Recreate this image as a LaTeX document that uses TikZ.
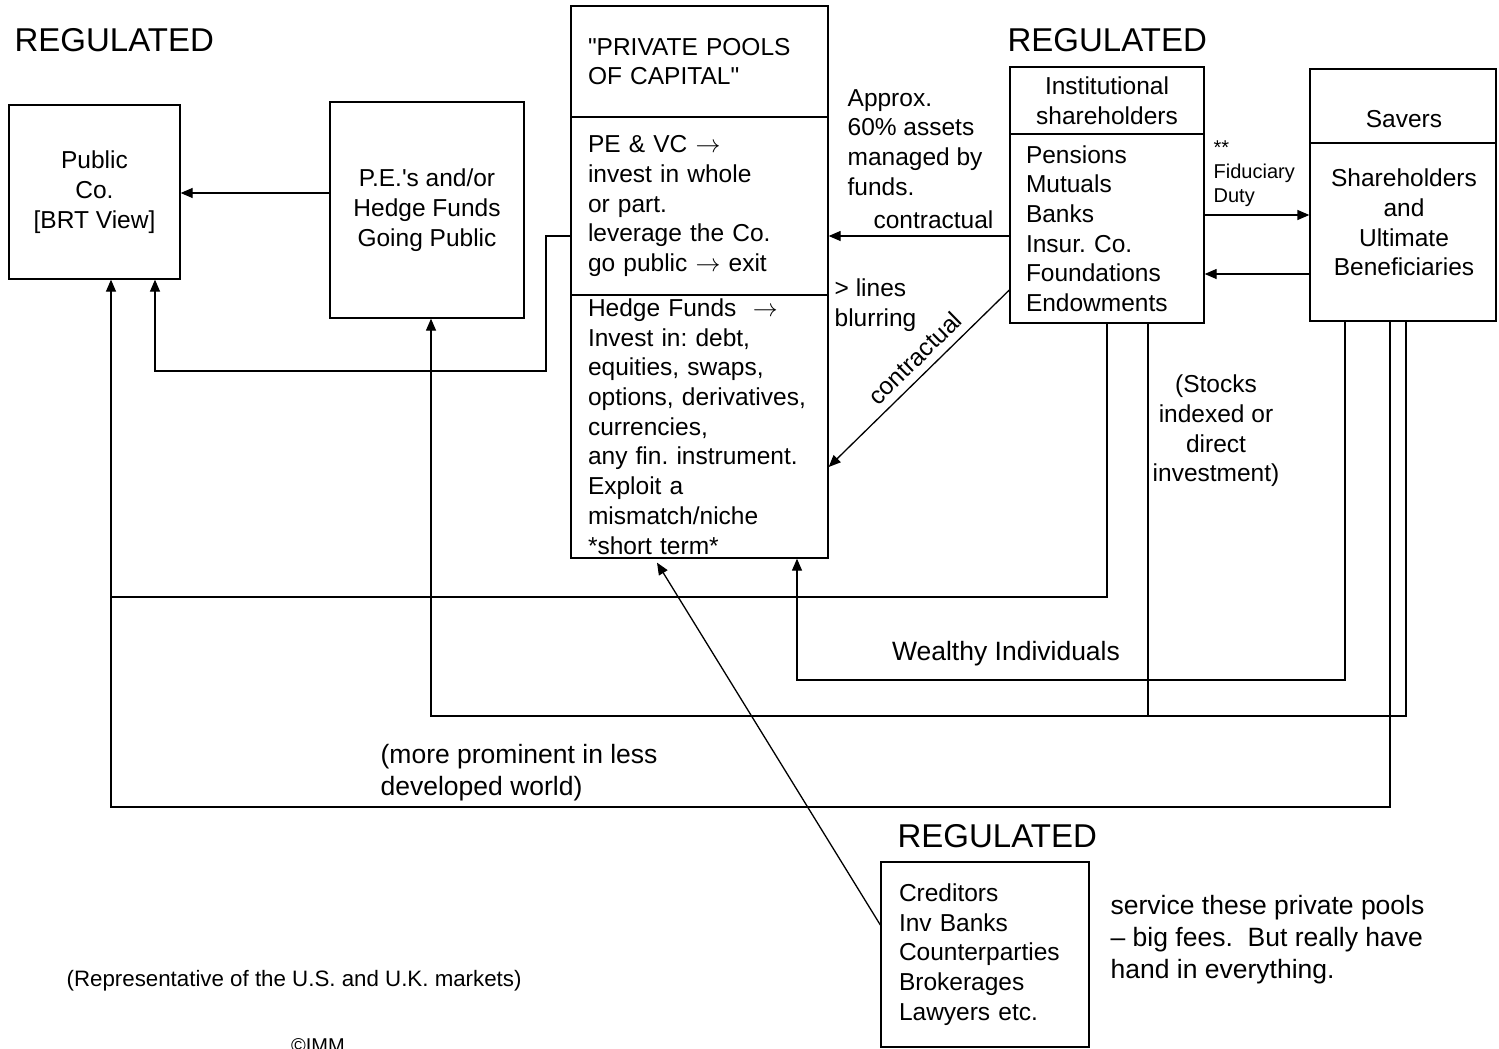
\documentclass[tikz,border=0pt]{standalone}
\usepackage{fontspec}
\setmainfont{Liberation Sans}[Ligatures=TeXOff]
\usepackage{tikz}
\frenchspacing
\newcommand*\bodyfont{\fontsize{24.5}{29.7}\selectfont}
\newcommand*\bigfont{\fontsize{26.5}{31.8}\selectfont}
\newcommand*\smallfont{\fontsize{20}{24}\selectfont}
\newcommand*\headfont{\fontsize{33}{40}\selectfont}
\newcommand*\toarrow{$\rightarrow$}
\usetikzlibrary{arrows.meta}

\begin{document}
\begin{tikzpicture}[
      x=1pt, y=-1pt,
      >={Triangle[length=12pt,width=10pt]},
      line width=1.3pt,
      box/.style={draw, inner sep=0pt, font=\bodyfont},
      listbox/.style={box, align=left},
      heading/.style={font=\headfont, inner sep=0pt},
      note/.style={font=\bodyfont, inner sep=0pt},
    ]
      \path[use as bounding box, fill=white] (0,0) rectangle (1499,1049);

      \node[box, align=center, minimum width=171pt, minimum height=174pt] (pubco) at (94.5,192) {Public\\Co.\\{}[BRT View]};
      \node[box, align=center, minimum width=194pt, minimum height=216pt] (pefunds) at (427,210) {P.E.'s and/or\\Hedge Funds\\Going Public};
      \node[listbox, text width=223pt, minimum width=257pt, minimum height=111pt] (ppTop) at (699.5,61.5) {"PRIVATE POOLS\\OF CAPITAL"};
      \node[listbox, text width=223pt, minimum width=257pt, minimum height=178pt] (ppMid) at (699.5,206) {PE \& VC \toarrow\\invest in whole\\or part.\\leverage the Co.\\go public \toarrow{} exit};
      \node[listbox, text width=223pt, minimum width=257pt, minimum height=263pt] (ppBot) at (699.5,426.5) {Hedge Funds\ \ \toarrow\\Invest in: debt,\\equities, swaps,\\options, derivatives,\\currencies,\\any fin. instrument.\\Exploit a\\mismatch/niche\\{}*short term*};
      \node[box, align=center, minimum width=194pt, minimum height=67pt] (instTop) at (1107,100.5) {Institutional\\shareholders};
      \node[listbox, text width=162pt, minimum width=194pt, minimum height=189pt] (instBot) at (1107,228.5) {Pensions\\Mutuals\\Banks\\Insur. Co.\\Foundations\\Endowments};
      \node[box, minimum width=186pt, minimum height=74pt] (savTop) at (1403,106) {};
      \node[box, minimum width=186pt, minimum height=178pt] (savBot) at (1403,232) {};
      \node[note] (savLbl) at (1404,119) {Savers};
      \node[note, align=center] (benLbl) at (1404,222.5) {Shareholders\\and\\Ultimate\\Beneficiaries};
      \node[listbox, text width=172pt, minimum width=208pt, minimum height=185pt] (regBox) at (985,954.5) {Creditors\\Inv Banks\\Counterparties\\Brokerages\\Lawyers etc.};

      \node[heading, anchor=west] (regLeft) at (14,40) {REGULATED};
      \node[heading, anchor=west] (regRight) at (1007,40) {REGULATED};
      \node[heading, anchor=west] (regBottom) at (897,836) {REGULATED};

      \node[note, align=left, anchor=west] (approx) at (847,142.5) {Approx.\\60\% assets\\managed by\\funds.};
      \node[note, align=left, anchor=west] (blurring) at (834,305) {> lines\\blurring};
      \node[note, align=center] (stocks) at (1216,431) {(Stocks\\indexed or\\direct\\investment)};
      \node[note, font=\bigfont] (wealthy) at (1006,654) {Wealthy Individuals};
      \node[note, font=\bigfont, align=left, anchor=west] (prominent) at (380,773) {(more prominent in less\\developed world)};
      \node[note, font=\bigfont, align=left, anchor=west] (service) at (1110,939.5) {service these private pools\\– big fees.\ \ But really have\\hand in everything.};
      \node[note, font=\smallfont, align=left, anchor=west] (fiduciary) at (1213,174) {**\\Fiduciary\\Duty};
      \node[note, font=\fontsize{22.3}{26}\selectfont, anchor=west] (markets) at (66,981) {(Representative of the U.S. and U.K. markets)};
      \node[note, font=\smallfont] (imm) at (318,1046) {©IMM};

      \draw[->] ([yshift=17pt]pefunds.west) -- ([yshift=-1pt]pubco.east);
      \draw[->] ([yshift=-30pt]ppMid.west) -| (546,371) -| ([xshift=60.5pt]pubco.south);
      \draw[->] (instBot.south) |- (111,597) -- ([xshift=16.5pt]pubco.south);
      \draw ([xshift=-13pt]savBot.south) |- (111,807) -- (111,597);
      \draw[->] ([xshift=3pt]savBot.south) |- (431,716) -- ([xshift=4pt]pefunds.south);
      \draw ([xshift=41pt]instBot.south) -- (1148,716);
      \draw[->] ([xshift=-58pt]savBot.south) |- (797,680) -- ([xshift=97.5pt]ppBot.south);
      \draw[->] ([yshift=13.5pt]instBot.east) -- ([yshift=17pt]savBot.west);
      \draw[->] ([yshift=-42pt]savBot.west) -- ([yshift=-45.5pt]instBot.east);
      \draw[->] ([yshift=-7.5pt]instBot.west) -- ([yshift=-30pt]ppMid.east)
        node[note, pos=0.42, above=7pt] {contractual};
      \draw[<-] ([yshift=-40.5pt]ppBot.east) -- ([yshift=-61.5pt]instBot.west)
        node[note, pos=0.545, sloped, above=8pt] {contractual};
      \draw[->] ([yshift=29.5pt]regBox.west) -- ([xshift=-42.5pt,yshift=-4pt]ppBot.south);
    \end{tikzpicture}
\end{document}
